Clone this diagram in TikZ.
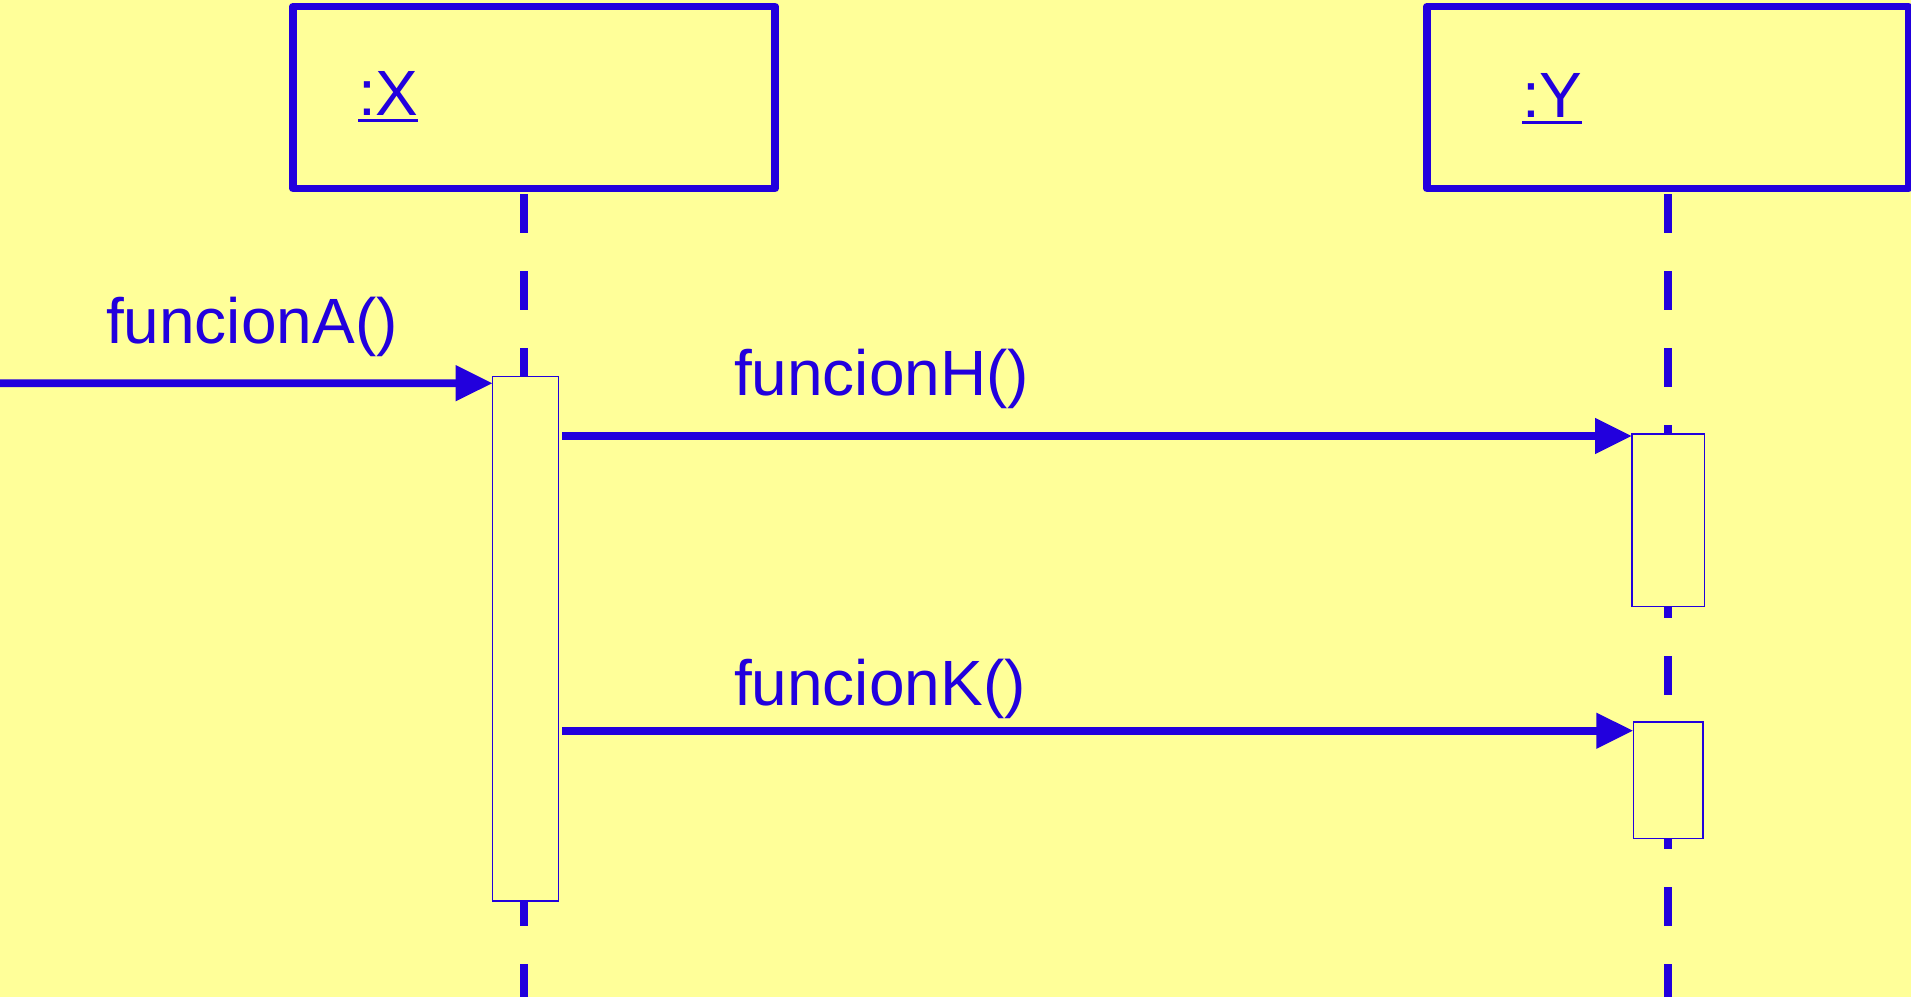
\documentclass[tikz,border=0pt]{standalone}
\usepackage{fontspec}
\setmainfont{Liberation Sans}
\usetikzlibrary{arrows.meta}

\definecolor{umlblue}{RGB}{34,0,221}
\definecolor{umlyellow}{RGB}{255,255,153}

\tikzset{
  objbox/.style={draw=umlblue, line width=7.3pt, line join=round, fill=umlyellow,
                 rectangle, inner sep=0pt, outer sep=0pt},
  actbox/.style={draw=umlblue, line width=1.2pt, fill=umlyellow,
                 rectangle, inner sep=0pt, outer sep=0pt},
  lifeline/.style={draw=umlblue, line width=8pt, line cap=butt,
                   dash pattern=on 38.5pt off 38.5pt},
  msg/.style={draw=umlblue, line width=7.6pt, line cap=butt,
              -{Triangle[length=37pt,width=34pt]}},
  lbl/.style={text=umlblue, inner sep=0pt, outer sep=0pt, anchor=base west,
              font=\fontsize{64pt}{77pt}\selectfont},
  underline/.style={draw=umlblue, line width=3pt}
}

\begin{document}
\begin{tikzpicture}[x=1pt, y=-1pt]
  % background and page size
  \fill[umlyellow] (0,0) rectangle (1911,997);
  \useasboundingbox (0,0) rectangle (1911,997);

  % object boxes
  \node[objbox, minimum width=482pt, minimum height=182.4pt] (objx) at (534,97.5) {};
  \node[objbox, minimum width=481.7pt, minimum height=182.4pt] (objy) at (1667.85,97.5) {};

  % object names, underlined
  \node[lbl] (lx) at (358,115) {:X};
  \draw[underline] ([yshift=-5.7pt]lx.base west) -- ([yshift=-5.7pt]lx.base east);
  \node[lbl] (ly) at (1522,117.3) {:Y};
  \draw[underline] ([yshift=-5.5pt]ly.base west) -- ([yshift=-5.5pt]ly.base east);

  % lifelines
  \coordinate (xend) at (524,997);
  \coordinate (yend) at (1668,997);
  \draw[lifeline] ([yshift=-5.5pt]objx.south -| xend) -- (xend);
  \draw[lifeline] ([yshift=-5.5pt]objy.south -| yend) -- (yend);

  % activation bars
  \node[actbox, minimum width=66pt, minimum height=524.3pt] (ax) at (525.7,638.85) {};
  \node[actbox, minimum width=72.5pt, minimum height=172.7pt] (ah) at (1668.25,520.35) {};
  \node[actbox, minimum width=69.7pt, minimum height=116.3pt] (ak) at (1668.15,780.15) {};

  % messages
  \coordinate (astart) at (0,383.2);
  \draw[msg] (astart) -- ([yshift=-6.5pt]ax.north west);
  \draw[msg] ([xshift=3.3pt,yshift=-2pt]ax.east |- ah.north) -- ([yshift=-2pt]ah.north west);
  \draw[msg] ([xshift=3.3pt,yshift=-8.7pt]ax.east |- ak.north) -- ([yshift=-8.7pt]ak.north west);

  % message labels
  \node[lbl] (la) at (106,343.7) {funcionA()};
  \node[lbl] (lh) at (734,395) {funcionH()};
  \node[lbl] (lk) at (734,705) {funcionK()};
\end{tikzpicture}
\end{document}
